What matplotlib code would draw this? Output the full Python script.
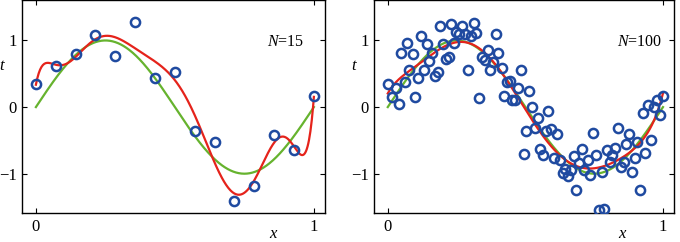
import numpy as np
import matplotlib
matplotlib.use("Agg")
import matplotlib.pyplot as plt

plt.rcParams['font.family'] = ['Liberation Serif', 'DejaVu Serif']
plt.rcParams['mathtext.fontset'] = 'custom'
plt.rcParams['mathtext.rm'] = 'Liberation Serif'
plt.rcParams['mathtext.it'] = 'Liberation Serif:italic'

# Data (N=15 panel)
x15 = [0.0, 0.072, 0.143, 0.214, 0.286, 0.357, 0.428, 0.5, 0.571, 0.643,
       0.714, 0.786, 0.857, 0.929, 1.0]
t15 = [0.34, 0.61, 0.79, 1.08, 0.76, 1.28, 0.44, 0.53, -0.36, -0.53,
       -1.41, -1.19, -0.42, -0.64, 0.16]

# Data (N=100 panel)
x100 = [0.0, 0.016, 0.030, 0.040, 0.048, 0.061, 0.070, 0.078, 0.090, 0.100,
        0.110, 0.119, 0.130, 0.141, 0.151, 0.159, 0.171, 0.181, 0.190, 0.200,
        0.211, 0.223, 0.231, 0.241, 0.249, 0.259, 0.271, 0.280, 0.293, 0.302,
        0.312, 0.322, 0.333, 0.342, 0.352, 0.364, 0.373, 0.383, 0.393, 0.402,
        0.414, 0.423, 0.433, 0.443, 0.453, 0.463, 0.475, 0.484, 0.494, 0.504,
        0.514, 0.524, 0.534, 0.545, 0.554, 0.564, 0.575, 0.584, 0.594, 0.605,
        0.616, 0.625, 0.635, 0.645, 0.655, 0.665, 0.675, 0.684, 0.695, 0.705,
        0.714, 0.727, 0.736, 0.746, 0.757, 0.766, 0.777, 0.787, 0.796, 0.806,
        0.816, 0.825, 0.837, 0.847, 0.857, 0.866, 0.877, 0.887, 0.898, 0.907,
        0.917, 0.927, 0.936, 0.946, 0.958, 0.967, 0.977, 0.989, 1.0]
t100 = [0.34, 0.15, 0.29, 0.04, 0.81, 0.38, 0.96, 0.56, 0.80, 0.15,
        0.43, 1.06, 0.55, 0.94, 0.69, 0.81, 0.47, 0.53, 1.22, 0.94,
        0.72, 0.75, 1.25, 0.96, 1.13, 1.09, 1.22, 1.10, 0.55, 1.06,
        1.26, 1.11, 0.14, 0.75, 0.70, 0.85, 0.55, 0.67, 1.10, 0.81,
        0.59, 0.17, 0.38, 0.39, 0.10, 0.10, 0.28, 0.56, -0.71, -0.36,
        0.24, 0.0, -0.31, -0.17, -0.63, -0.72, -0.36, -0.06, -0.33, -0.77,
        -0.41, -0.79, -0.99, -0.93, -1.03, -0.94, -0.73, -1.25, -0.84, -0.63,
        -0.95, -0.79, -1.02, -0.39, -0.72, -1.54, -0.98, -1.53, -0.65, -0.82,
        -0.72, -0.61, -0.32, -0.90, -0.83, -0.55, -0.40, -0.98, -0.76, -0.53,
        -1.24, -0.09, -0.69, 0.03, -0.50, 0.0, 0.11, -0.12, 0.17]

panels = [(x15, t15, 'N', '=15'), (x100, t100, 'N', '=100')]
M = 9  # polynomial order of the red fit

blue = '#1f4aa0'
green = '#66b32e'
red = '#e5231b'

fig = plt.figure(figsize=(6.8, 2.42), dpi=100)
rects = [[22/680, 29/242, 303/680, 212.5/242], [374/680, 29/242, 300/680, 212.5/242]]

xs = np.linspace(0, 1, 400)
for rect, (xd, td, sym, rest) in zip(rects, panels):
    ax = fig.add_axes(rect)
    ax.plot(xs, np.sin(2 * np.pi * xs), color=green, lw=1.6, zorder=2)
    coef = np.polyfit(xd, td, M)
    ax.plot(xs, np.polyval(coef, xs), color=red, lw=1.6, zorder=3)
    ax.plot(xd, td, 'o', mfc='none', mec=blue, mew=1.8, ms=6.6, zorder=4)
    ax.set_xlim(-0.05, 1.04)
    ax.set_ylim(-1.59, 1.6)
    ax.set_xticks([0, 1])
    ax.set_xticklabels(['0', '1'])
    ax.set_yticks([-1, 0, 1])
    ax.set_yticklabels(['\u22121', '0', '1'])
    ax.tick_params(direction='in', top=True, right=True, length=3.5,
                   width=0.8, labelsize=12, pad=4)
    for s in ax.spines.values():
        s.set_linewidth(1.0)
    ax.text(0.81, 0.805, '$' + sym + '$' + rest, transform=ax.transAxes,
            fontsize=11.5, ha='left', va='center')
    ax.text(-0.066, 0.69, '$t$', transform=ax.transAxes, fontsize=12,
            ha='center', va='center')
    ax.text(0.83, -0.1, '$x$', transform=ax.transAxes, fontsize=12,
            ha='center', va='center')

fig.savefig('out.png', dpi=100)
